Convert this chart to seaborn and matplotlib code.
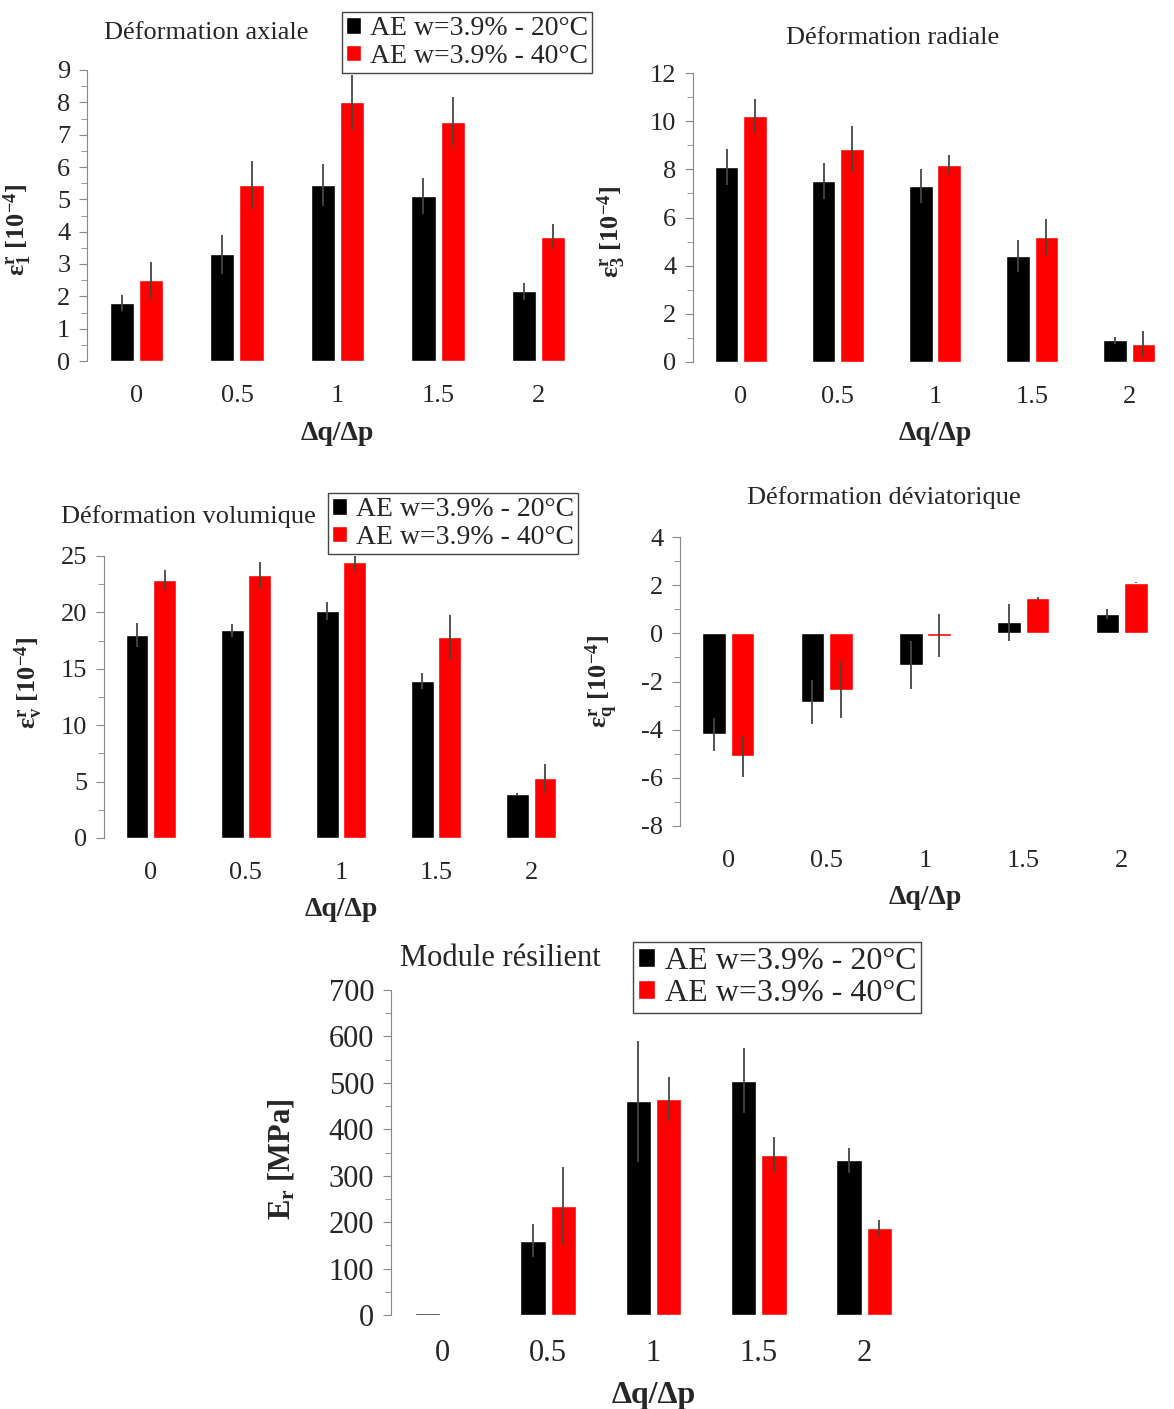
import numpy as np
import pandas as pd
import seaborn as sns
import matplotlib.pyplot as plt
from matplotlib.ticker import MultipleLocator

ratios = ['0', '0.5', '1', '1.5', '2']
series = ['AE w=3.9% - 20°C', 'AE w=3.9% - 40°C']

# Déformation axiale
axial_20 = [1.8, 3.3, 5.45, 5.1, 2.15]
axial_40 = [2.5, 5.45, 8.0, 7.4, 3.85]
axial_20_err = [0.25, 0.6, 0.65, 0.55, 0.25]
axial_40_err = [0.55, 0.75, 0.85, 0.75, 0.4]

# Déformation radiale
radial_20 = [8.1, 7.5, 7.3, 4.4, 0.9]
radial_40 = [10.2, 8.85, 8.2, 5.2, 0.75]
radial_20_err = [0.75, 0.75, 0.7, 0.65, 0.15]
radial_40_err = [0.7, 0.95, 0.4, 0.75, 0.55]

# Déformation volumique
vol_20 = [18.0, 18.4, 20.1, 13.9, 3.9]
vol_40 = [22.9, 23.3, 24.5, 17.8, 5.3]
vol_20_err = [1.1, 0.6, 0.8, 0.7, 0.1]
vol_40_err = [0.9, 1.2, 0.8, 2.0, 1.3]

# Déformation déviatorique
dev_20 = [-4.2, -2.85, -1.3, 0.45, 0.8]
dev_40 = [-5.1, -2.35, -0.1, 1.45, 2.1]
dev_20_err = [0.7, 0.9, 1.0, 0.75, 0.2]
dev_40_err = [0.85, 1.15, 0.9, 0.05, 0.02]

# Module résilient
mod_20 = [5, 160, 460, 505, 333]
mod_40 = [0, 235, 465, 345, 188]
mod_20_err = [0, 35, 130, 70, 27]
mod_40_err = [0, 83, 47, 38, 17]

W, H = 1174, 1409

sns.set_style('white')
plt.rcParams['font.family'] = ['Liberation Serif', 'DejaVu Serif']
plt.rcParams['mathtext.fontset'] = 'custom'
plt.rcParams['mathtext.rm'] = 'Liberation Serif'
plt.rcParams['mathtext.bf'] = 'Liberation Serif:bold'
plt.rcParams['mathtext.it'] = 'Liberation Serif:italic'
plt.rcParams['mathtext.default'] = 'bf'
plt.rcParams['axes.unicode_minus'] = False

fig = plt.figure(figsize=(W / 100, H / 100), dpi=100)


def box(l, t, r, b):
    return [l / W, 1 - b / H, (r - l) / W, (b - t) / H]


def panel(rect, v20, v40, e20, e40, ylim, major, minor, ylabel, title, title_xy,
          legend_xy=None, fs=19, ylab_x=-0.12, ylab_y=0.5):
    ax = fig.add_axes(box(*rect))
    df = pd.DataFrame({'ratio': ratios * 2,
                       'serie': [series[0]] * 5 + [series[1]] * 5,
                       'value': v20 + v40})
    sns.barplot(data=df, x='ratio', y='value', hue='serie', order=ratios,
                hue_order=series, palette=['#000000', '#ff0000'], saturation=1,
                width=0.58, gap=0.17, errorbar=None, ax=ax)
    for cont, errs in zip(ax.containers, [e20, e40]):
        xs = [r.get_x() + r.get_width() / 2 for r in cont]
        ax.errorbar(xs, cont.datavalues, yerr=errs, fmt='none',
                    ecolor='#3f4a3f', elinewidth=1.3, capsize=0)
    leg = ax.get_legend()
    handles = leg.legend_handles
    leg.remove()
    if legend_xy is not None:
        ax.legend(handles, series, loc='upper left',
                  bbox_to_anchor=(legend_xy[0] / W, 1 - legend_xy[1] / H),
                  bbox_transform=fig.transFigure, borderaxespad=0,
                  fontsize=fs + 1, frameon=True, fancybox=False,
                  edgecolor='#444444', framealpha=1, borderpad=0.15,
                  labelspacing=0.1, handlelength=0.55, handleheight=0.55,
                  handletextpad=0.3)
    ax.set_ylim(*ylim)
    ax.yaxis.set_major_locator(MultipleLocator(major))
    ax.yaxis.set_minor_locator(MultipleLocator(minor))
    ax.tick_params(axis='y', which='major', length=6, color='#888888',
                   direction='out', labelsize=fs, pad=6, left=True)
    ax.tick_params(axis='y', which='minor', length=4, color='#888888',
                   direction='out', left=True)
    ax.tick_params(axis='x', length=0, labelsize=fs, pad=17)
    for s in ['top', 'right', 'bottom']:
        ax.spines[s].set_visible(False)
    ax.spines['left'].set_color('#888888')
    ax.set_xlabel('Δq/Δp', fontsize=fs + 1, fontweight='bold', labelpad=10)
    ax.set_ylabel(ylabel, fontsize=fs, fontweight='bold')
    ax.yaxis.set_label_coords(ylab_x, ylab_y)
    fig.text(title_xy[0] / W, 1 - title_xy[1] / H, title, fontsize=fs,
             ha='center', va='center')
    return ax


panel((87, 70, 588, 361), axial_20, axial_40, axial_20_err, axial_40_err,
      (0, 9), 1, 0.5, 'ε$_1^r$ [10$^{-4}$]', 'Déformation axiale', (206, 33),
      legend_xy=(342, 12), ylab_x=-0.105, ylab_y=0.45)
panel((693, 73, 1177, 362), radial_20, radial_40, radial_20_err, radial_40_err,
      (0, 12), 2, 1, 'ε$_3^r$ [10$^{-4}$]', 'Déformation radiale', (893, 38),
      ylab_x=-0.135, ylab_y=0.45)
panel((104, 556, 578, 838), vol_20, vol_40, vol_20_err, vol_40_err,
      (0, 25), 5, 2.5, 'ε$_v^r$ [10$^{-4}$]', 'Déformation volumique', (188, 517),
      legend_xy=(328, 493), ylab_x=-0.125, ylab_y=0.55)
panel((680, 537, 1170, 826), dev_20, dev_40, dev_20_err, dev_40_err,
      (-8, 4), 2, 1, 'ε$_q^r$ [10$^{-4}$]', 'Déformation déviatorique', (884, 498),
      ylab_x=-0.122, ylab_y=0.5)
panel((391, 990, 916, 1315), mod_20, mod_40, mod_20_err, mod_40_err,
      (0, 700), 100, 50, 'E$_r$ [MPa]', 'Module résilient', (500, 958),
      legend_xy=(633, 942), fs=22, ylab_x=-0.18, ylab_y=0.48)

fig.savefig('out.png', dpi=100)
